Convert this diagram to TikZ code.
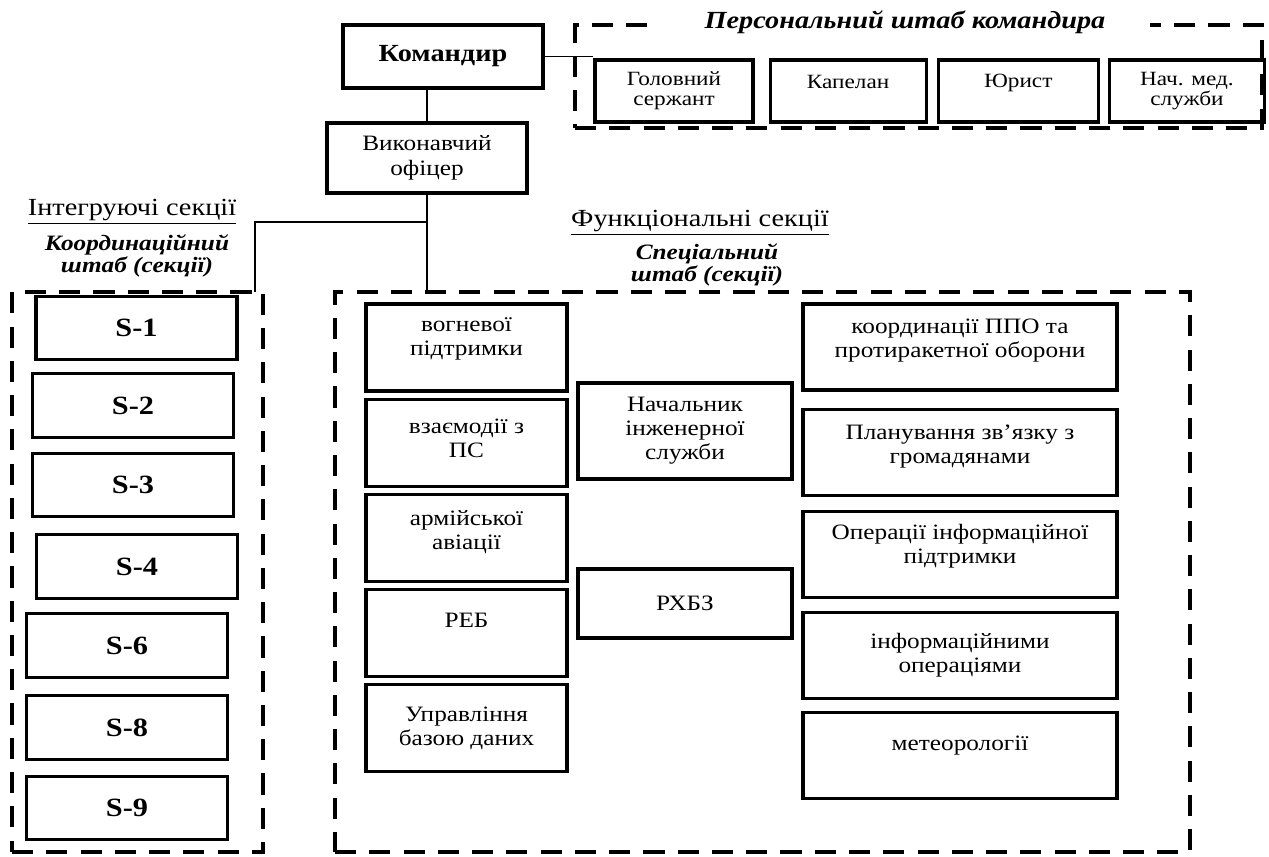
\documentclass[tikz,border=0pt]{standalone}
\usepackage{fontspec}
\setmainfont{Liberation Serif}[FakeStretch=1.15]
\usetikzlibrary{positioning}

\begin{document}
\begin{tikzpicture}[x=0.02cm, y=-0.02cm, node distance=0.1cm]
    \tikzset{
        box/.style={draw, line width=1.8pt, align=center, inner sep=2pt, font=\fontsize{12.5}{13.7}\selectfont},
        sbox/.style={box, minimum width=4.02cm, minimum height=1.27cm, font=\fontsize{15}{17}\selectfont\bfseries},
        staffbox/.style={box, minimum height=1.24cm, font=\fontsize{11.5}{11.6}\selectfont},
        fbox/.style={box, minimum width=4.02cm, minimum height=1.74cm},
        rbox/.style={box, minimum width=6.28cm, minimum height=1.72cm},
        dashbox/.style={draw, line width=1.9pt, dash pattern=on 12pt off 7.5pt},
        wire/.style={line width=1pt},
        heading/.style={font=\fontsize{14}{16}\selectfont},
        staffnote/.style={align=center, font=\fontsize{12.5}{13}\selectfont\bfseries\itshape},
        lift/.style={text depth=#1}
    }
    \useasboundingbox (0,0) rectangle (1269,857);

    % DASHED GROUPS
    \node[dashbox, minimum width=13.74cm, minimum height=2.06cm] (pers) at (918.5,76.5) {};
    \node[dashbox, minimum width=5.02cm, minimum height=11.2cm] (coord) at (137.5,572) {};
    \node[dashbox, minimum width=17.1cm, minimum height=11.2cm] (spec) at (762.5,572) {};

    % GROUP TITLES
    \node[staffnote, fill=white, inner xsep=0.9cm, font=\fontsize{14}{16}\selectfont\bfseries\itshape] (perstitle) at (905,22) {Персональний штаб командира};
    \node[heading] (integ) at (132,212) {\underline{Інтегруючі секції}};
    \node[staffnote] (coordtitle) at (137,256) {Координаційний\\штаб (секції)};
    \node[heading] (func) at (700,223) {\underline{Функціональні секції}};
    \node[staffnote] (spectitle) at (707,265) {Спеціальний\\штаб (секції)};

    % COMMAND
    \node[box, minimum width=4cm, minimum height=1.26cm, font=\fontsize{14}{16}\selectfont\bfseries] (kom) at (443,56.5) {Командир};
    \node[box, minimum width=4cm, minimum height=1.4cm, font=\fontsize{12.5}{14.2}\selectfont] (vyk) at (427,158) {Виконавчий\\офіцер};

    % PERSONAL STAFF
    \node[staffbox, minimum width=3.16cm] (gol) at (674,91) {Головний\\сержант};
    \node[staffbox, minimum width=3.12cm, lift=0.36cm, right=0.28cm of gol] (kap) {Капелан};
    \node[staffbox, minimum width=3.2cm, lift=0.42cm, right=0.18cm of kap] (yur) {Юрист};
    \node[staffbox, minimum width=3.1cm, right=0.16cm of yur] (nmed) {Нач. мед.\\служби};

    % COORDINATING STAFF
    \node[sbox] (s1) at (136.5,328) {S-1};
    \node[sbox] (s2) at (133,405.5) {S-2};
    \node[sbox] (s3) at (133,485) {S-3};
    \node[sbox] (s4) at (137,566.5) {S-4};
    \node[sbox] (s6) at (127,645.5) {S-6};
    \node[sbox] (s8) at (127,727.5) {S-8};
    \node[sbox] (s9) at (127,808) {S-9};

    % SPECIAL STAFF
    \node[fbox, lift=0.42cm] (vog) at (466.5,347.5) {вогневої\\підтримки};
    \node[fbox, lift=0.16cm, below=of vog] (vza) {взаємодії з\\ПС};
    \node[fbox, lift=0.32cm, below=of vza] (arm) {армійської\\авіації};
    \node[fbox, lift=0.52cm, below=of arm] (reb) {РЕБ};
    \node[fbox, below=of reb] (upr) {Управління\\базою даних};

    \node[box, minimum width=4.28cm, minimum height=1.92cm] (inzh) at (685,431) {Начальник\\інженерної\\служби};
    \node[box, minimum width=4.28cm, minimum height=1.38cm] (rhbz) at (685,603.5) {РХБЗ};

    \node[rbox, lift=0.34cm] (ppo) at (960,347) {координації ППО та\\протиракетної оборони};
    \node[rbox, lift=0.3cm, below=0.32cm of ppo] (plan) {Планування зв'язку з\\громадянами};
    \node[rbox, lift=0.42cm, below=0.26cm of plan] (oper) {Операції інформаційної\\підтримки};
    \node[rbox, below=0.24cm of oper] (info) {інформаційними\\операціями};
    \node[rbox, lift=0.5cm, below=0.22cm of info] (met) {метеорології};

    % LINKS
    \draw[wire] (kom.east) -- (kom.east -| gol.west);
    \draw[wire] (vyk.north) -- (vyk.north |- kom.south);
    \draw[wire] (vyk.south) -- (vyk.south |- spec.north);
    \coordinate (fork) at (vyk.south |- 0,222);
    \coordinate (cdrop) at (255,292);
    \draw[wire] (fork) -| (cdrop);

\end{tikzpicture}
\end{document}
